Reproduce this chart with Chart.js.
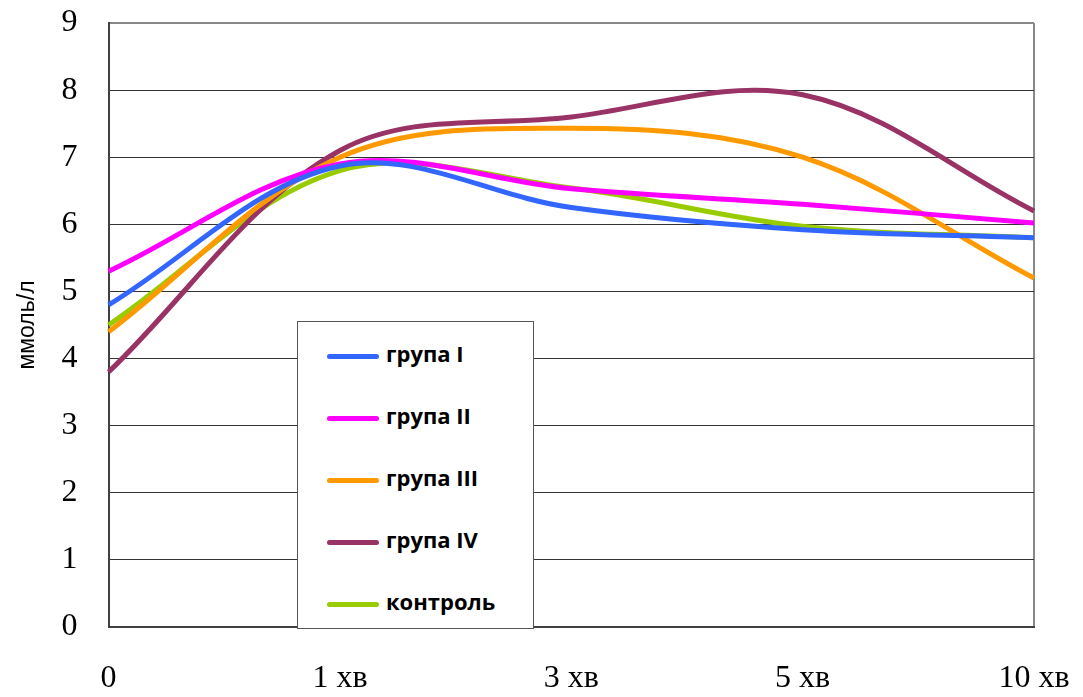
<!DOCTYPE html>
<html>
<head>
<meta charset="utf-8">
<script src="https://cdn.jsdelivr.net/npm/chart.js@4/dist/chart.umd.min.js"></script>
<style>
  html, body { margin: 0; padding: 0; background: #fff; overflow: hidden; }
  #wrap { position: relative; width: 1083px; height: 697px; }
  #glucoseChart { position: absolute; left: 0; top: 0; }
  #legendBox {
    position: absolute; left: 297px; top: 321px; width: 237px; height: 308px;
    background: #fff; border: 1px solid #555; box-sizing: border-box;
    font-family: "Open Sans", sans-serif; font-weight: bold; font-size: 22px; color: #000;
  }
  .item { position: absolute; left: 29px; height: 26px; line-height: 26px; white-space: nowrap; }
  .swatch { display: inline-block; width: 52px; height: 5px; border-radius: 3px; vertical-align: middle; margin-right: 7px; }
</style>
</head>
<body>
<div id="wrap">
  <canvas id="glucoseChart" width="1083" height="697"></canvas>
  <div id="legendBox"></div>
</div>
<script>
var timeLabels = ["0", "1 хв", "3 хв", "5 хв", "10 хв"];
var yTicks = [0, 1, 2, 3, 4, 5, 6, 7, 8, 9];

var seriesNames = ["група I", "група II", "група III", "група IV", "контроль"];
var seriesColors = ["#3366ff", "#ff00ff", "#ff9900", "#993366", "#99cc00"];

var groupI = [4.8, 6.87, 6.25, 5.92, 5.8];
var groupII = [5.3, 6.9, 6.53, 6.3, 6.02];
var groupIII = [4.4, 7.0, 7.43, 7.0, 5.2];
var groupIV = [3.8, 7.1, 7.6, 7.93, 6.2];
var control = [4.5, 6.8, 6.54, 5.97, 5.8];

var seriesValues = [groupI, groupII, groupIII, groupIV, control];

var datasets = seriesNames.map(function (name, i) {
  return {
    label: name,
    data: seriesValues[i],
    borderColor: seriesColors[i],
    backgroundColor: seriesColors[i],
    borderWidth: 5,
    pointRadius: 0,
    tension: 0.35,
    fill: false
  };
});

new Chart(document.getElementById("glucoseChart"), {
  type: "line",
  data: { labels: timeLabels, datasets: datasets },
  options: {
    responsive: false,
    animation: false,
    layout: { padding: { top: 23, right: 49, bottom: 0, left: 0 } },
    plugins: {
      legend: { display: false },
      tooltip: { enabled: false }
    },
    scales: {
      x: {
        offset: false,
        grid: {
          drawTicks: true,
          tickLength: 34,
          tickColor: "rgba(0,0,0,0)",
          color: function (ctx) {
            return ctx.index === timeLabels.length - 1 ? "#888888" : "rgba(0,0,0,0)";
          },
          lineWidth: 2
        },
        border: { display: true, color: "#404040", width: 2 },
        ticks: {
          color: "#000",
          padding: 2,
          maxRotation: 0,
          autoSkip: false,
          font: { family: "Liberation Serif", size: 32, lineHeight: 1.0 }
        }
      },
      y: {
        min: 0,
        max: 9,
        afterBuildTicks: function (axis) {
          axis.ticks = yTicks.map(function (v) { return { value: v }; });
        },
        grid: {
          drawTicks: true,
          tickLength: 25,
          tickColor: "rgba(0,0,0,0)",
          color: function (ctx) {
            return ctx.tick && ctx.tick.value === 9 ? "#888888" : "#333333";
          },
          lineWidth: function (ctx) {
            return ctx.tick && ctx.tick.value === 9 ? 2 : 1;
          }
        },
        border: { display: true, color: "#404040", width: 2 },
        title: {
          display: true,
          text: "ммоль/л",
          color: "#000",
          font: { family: "Liberation Sans", size: 23 },
          padding: { top: 14, bottom: 14 }
        },
        ticks: {
          color: "#000",
          padding: 6,
          font: { family: "Liberation Serif", size: 32, lineHeight: 1.0 }
        }
      }
    }
  }
});

var box = document.getElementById("legendBox");
seriesNames.forEach(function (name, i) {
  var row = document.createElement("div");
  row.className = "item";
  row.style.top = (18 + i * 62) + "px";
  var sw = document.createElement("span");
  sw.className = "swatch";
  sw.style.background = seriesColors[i];
  row.appendChild(sw);
  row.appendChild(document.createTextNode(name));
  box.appendChild(row);
});
</script>
</body>
</html>
